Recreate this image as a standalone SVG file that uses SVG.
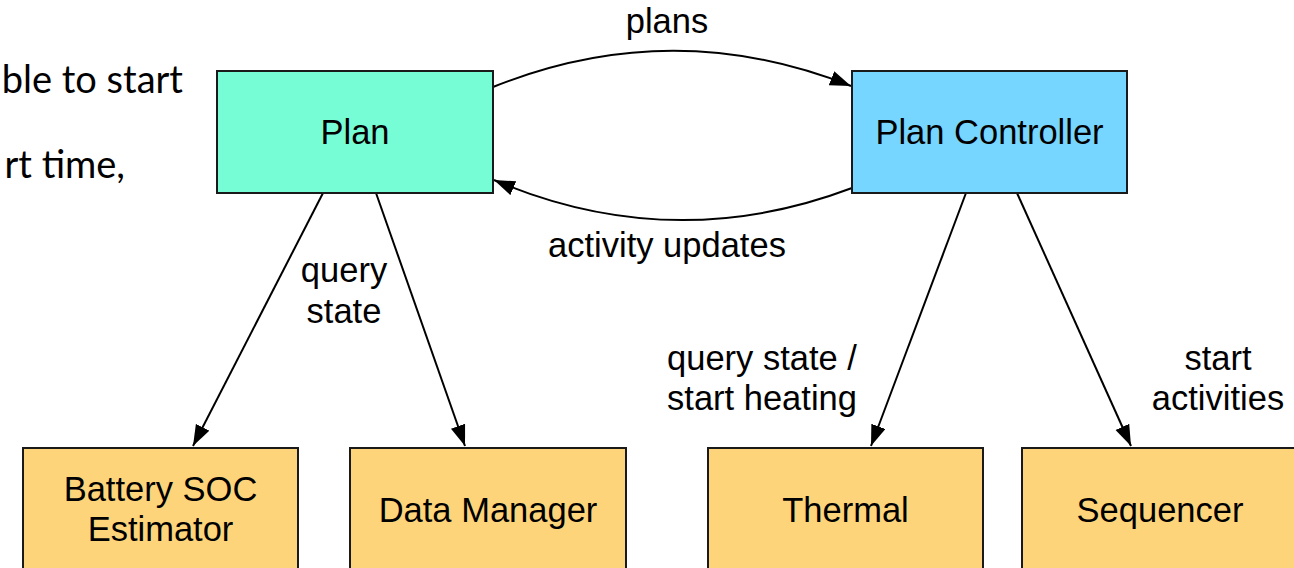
<svg xmlns="http://www.w3.org/2000/svg" width="1294" height="568" viewBox="0 0 1294 568">
  <defs>
    <marker id="arrow" markerUnits="userSpaceOnUse" markerWidth="22" markerHeight="16" refX="21" refY="7.5" orient="auto">
      <path d="M0,0 L21,7.5 L0,15 z" fill="#000"/>
    </marker>
    <style>
      .box { stroke: #1a1a1a; stroke-width: 2; }
      .plan { fill: #77FDD6; }
      .ctrl { fill: #76D6FF; }
      .sub { fill: #FED47A; }
      .lbl { font-family: "Liberation Sans", Arial, Helvetica, sans-serif; font-size: 34.5px; fill: #000; text-anchor: middle; }
      .edge { fill: none; stroke: #000; stroke-width: 2; marker-end: url(#arrow); }
      .slide { font-family: Lato, "Open Sans", sans-serif; font-size: 38px; fill: #000; text-anchor: end; }
    </style>
  </defs>

  <rect width="1294" height="568" fill="#fff"/>

  <!-- slide text partly covered on the left -->
  <g id="slide-text">
    <text class="slide" x="183" y="93">ble to start</text>
    <text class="slide" x="125" y="178">rt time,</text>
  </g>

  <!-- connectors -->
  <g id="connectors">
    <path class="edge" d="M493,87 Q672,15 851,86"/>
    <path class="edge" d="M852,188 Q672,256 494,180"/>
    <path class="edge" d="M323,193 L193,446"/>
    <path class="edge" d="M376,193 L465,446"/>
    <path class="edge" d="M966,193 L871,446"/>
    <path class="edge" d="M1017,193 L1131,446"/>
    <text class="lbl" x="667" y="33">plans</text>
    <text class="lbl" x="667" y="257">activity updates</text>
    <text class="lbl" x="344" y="282">query</text>
    <text class="lbl" x="344" y="323">state</text>
    <text class="lbl" x="762" y="370">query state /</text>
    <text class="lbl" x="762" y="410">start heating</text>
    <text class="lbl" x="1218" y="370">start</text>
    <text class="lbl" x="1218" y="410">activities</text>
  </g>

  <g id="plan">
    <rect class="box plan" x="217" y="71" width="276" height="122"/>
    <text class="lbl" x="355" y="144">Plan</text>
  </g>

  <g id="plan-controller">
    <rect class="box ctrl" x="852" y="71" width="275" height="122"/>
    <text class="lbl" x="989.5" y="144">Plan Controller</text>
  </g>

  <g id="battery-soc-estimator">
    <rect class="box sub" x="23" y="448" width="275" height="122"/>
    <text class="lbl" x="160.5" y="501">Battery SOC</text>
    <text class="lbl" x="160.5" y="541">Estimator</text>
  </g>

  <g id="data-manager">
    <rect class="box sub" x="350" y="448" width="276" height="122"/>
    <text class="lbl" x="488" y="522">Data Manager</text>
  </g>

  <g id="thermal">
    <rect class="box sub" x="708" y="448" width="275" height="122"/>
    <text class="lbl" x="845.5" y="522">Thermal</text>
  </g>

  <g id="sequencer">
    <rect class="box sub" x="1022" y="448" width="276" height="122"/>
    <text class="lbl" x="1160" y="522">Sequencer</text>
  </g>
</svg>
